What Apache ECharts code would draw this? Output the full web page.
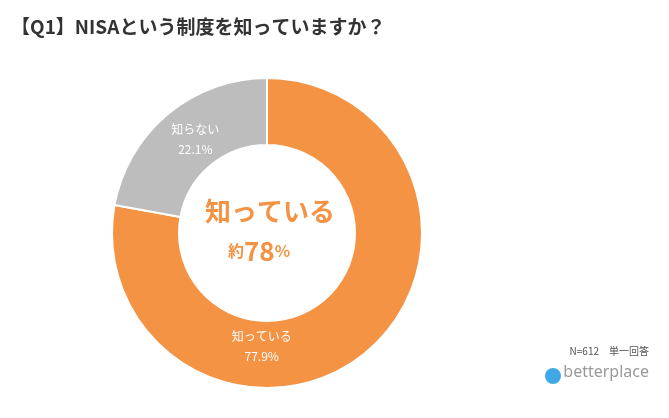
<!DOCTYPE html>
<html><head><meta charset="utf-8">
<script src="https://cdn.jsdelivr.net/npm/echarts@6/dist/echarts.min.js"></script>
<style>html,body{margin:0;background:#fff}#main{width:669px;height:418px}</style>
</head><body><div id="main"></div>
<script>
const names = ['知っている', '知らない'];
const values = [77.9, 22.1];
const colors = ['#F59345', '#BDBDBD'];
const labelOffsets = [[-85, 18], [8, 2]];

let chart = echarts.init(document.getElementById('main'));
chart.setOption({
  title: {
    text: '【Q1】NISAという制度を知っていますか？',
    left: 6, top: 12,
    textStyle: {fontFamily: 'Noto Sans CJK JP', fontSize: 19, fontWeight: 'bold', color: '#333'}
  },
  graphic: [
    {type: 'text', left: 205, top: 198, style: {text: '知っている', fill: '#F59345', font: 'bold 26px "Noto Sans CJK JP"'}},
    {type: 'text', left: 228, top: 238, style: {text: '{a|約}{b|78}{a|%}', rich: {a: {fill: '#F59345', font: 'bold 16px "Noto Sans CJK JP"'}, b: {fill: '#F59345', font: 'bold 26px "Noto Sans CJK JP"'}}}},
    {type: 'text', right: 20, top: 346, style: {text: 'N=612　単一回答', fill: '#555', font: '10px "Noto Sans CJK JP"'}},
    {type: 'text', right: 20, top: 364, style: {text: 'betterplace', fill: '#999', font: '16px "Noto Sans"'}},
    {type: 'circle', left: 545, top: 368, shape: {r: 8}, style: {fill: '#3FA9E6'}}
  ],
  series: [{
    type: 'pie',
    center: [267, 233],
    radius: [88, 155],
    startAngle: 90,
    clockwise: true,
    itemStyle: {borderColor: '#fff', borderWidth: 2},
    label: {
      position: 'inside',
      color: '#fff',
      fontFamily: 'Noto Sans CJK JP',
      fontSize: 12,
      lineHeight: 20,
      align: 'left',
      formatter: p => p.name + '\n' + p.value + '%'
    },
    labelLine: {show: false},
    emphasis: {disabled: true},
    data: names.map((n, i) => ({name: n, value: values[i], itemStyle: {color: colors[i]}, label: {offset: labelOffsets[i]}}))
  }]
});
</script></body></html>
